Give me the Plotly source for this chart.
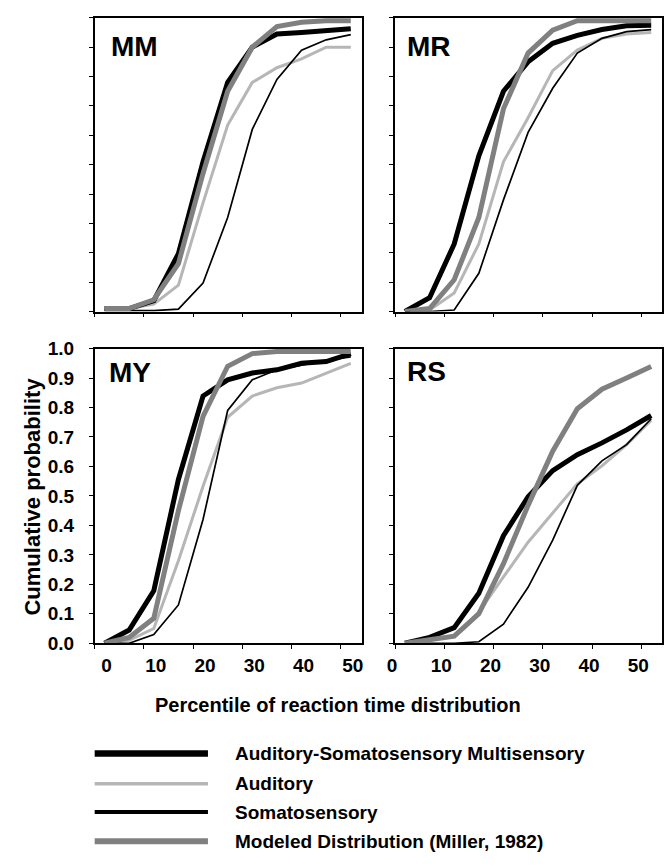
import plotly.graph_objects as go

# ---------------- data ----------------
percentile = [0, 5, 10, 15, 20, 25, 30, 35, 40, 45, 50]

panels = ["MM", "MR", "MY", "RS"]

mm_multisensory = [0.01, 0.01, 0.037, 0.197, 0.51, 0.78, 0.90, 0.945, 0.95, 0.958, 0.963]
mm_auditory     = [0.01, 0.01, 0.025, 0.09, 0.37, 0.635, 0.78, 0.83, 0.86, 0.90, 0.90]
mm_somato       = [0.003, 0.003, 0.003, 0.008, 0.097, 0.32, 0.62, 0.79, 0.89, 0.925, 0.943]
mm_model        = [0.01, 0.01, 0.04, 0.163, 0.47, 0.75, 0.90, 0.97, 0.985, 0.99, 0.99]

mr_multisensory = [0.0, 0.047, 0.23, 0.53, 0.75, 0.85, 0.913, 0.94, 0.96, 0.973, 0.975]
mr_auditory     = [0.0, 0.005, 0.063, 0.23, 0.51, 0.66, 0.82, 0.89, 0.93, 0.945, 0.95]
mr_somato       = [0.0, 0.0, 0.005, 0.13, 0.38, 0.61, 0.76, 0.88, 0.93, 0.953, 0.96]
mr_model        = [0.0, 0.01, 0.108, 0.32, 0.69, 0.88, 0.958, 0.99, 0.99, 0.99, 0.99]

my_multisensory = [0.0, 0.045, 0.178, 0.556, 0.839, 0.894, 0.917, 0.928, 0.95, 0.956, 0.983]
my_auditory     = [0.0, 0.01, 0.05, 0.28, 0.533, 0.767, 0.839, 0.867, 0.883, 0.917, 0.95]
my_somato       = [0.0, 0.0, 0.03, 0.13, 0.42, 0.79, 0.894, 0.928, 0.944, 0.96, 0.972]
my_model        = [0.0, 0.02, 0.085, 0.45, 0.77, 0.94, 0.983, 0.99, 0.99, 0.99, 0.99]

rs_multisensory = [0.0, 0.02, 0.053, 0.17, 0.365, 0.497, 0.586, 0.64, 0.68, 0.724, 0.773]
rs_auditory     = [0.0, 0.01, 0.025, 0.106, 0.225, 0.343, 0.442, 0.541, 0.602, 0.674, 0.757]
rs_somato       = [0.0, 0.0, 0.0, 0.005, 0.065, 0.19, 0.35, 0.536, 0.619, 0.674, 0.762]
rs_model        = [0.0, 0.01, 0.024, 0.10, 0.27, 0.468, 0.652, 0.796, 0.862, 0.90, 0.939]

x_tick_vals = [0, 10, 20, 30, 40, 50]
x_tick_text = ["0", "10", "20", "30", "40", "50"]

series_names = [
    "Auditory",
    "Somatosensory",
    "Auditory-Somatosensory Multisensory",
    "Modeled Distribution (Miller, 1982)",
]
legend_order = [
    "Auditory-Somatosensory Multisensory",
    "Auditory",
    "Somatosensory",
    "Modeled Distribution (Miller, 1982)",
]

panel_data = {
    "MM": [mm_auditory, mm_somato, mm_multisensory, mm_model],
    "MR": [mr_auditory, mr_somato, mr_multisensory, mr_model],
    "MY": [my_auditory, my_somato, my_multisensory, my_model],
    "RS": [rs_auditory, rs_somato, rs_multisensory, rs_model],
}

# ---------------- styles ----------------
W, H = 667, 866
FONT = "Liberation Sans"
styles = {
    "Auditory": dict(color="#b6b6b6", width=3),
    "Somatosensory": dict(color="#000000", width=1.7),
    "Auditory-Somatosensory Multisensory": dict(color="#000000", width=5),
    "Modeled Distribution (Miller, 1982)": dict(color="#808080", width=5),
}
legend_styles = {
    "Auditory-Somatosensory Multisensory": dict(color="#000000", width=6.5),
    "Auditory": dict(color="#b6b6b6", width=3.5),
    "Somatosensory": dict(color="#000000", width=4),
    "Modeled Distribution (Miller, 1982)": dict(color="#808080", width=6),
}

def px_x(p):
    return p / W

def px_y(p):
    return 1 - p / H

col_dom = [[px_x(88), px_x(359)], [px_x(393), px_x(664)]]
row_dom = [[px_y(309), px_y(8)], [px_y(649), px_y(347)]]

fig = go.Figure()

positions = {"MM": (0, 0), "MR": (1, 0), "MY": (0, 1), "RS": (1, 1)}
label_pos = {"MM": (103, 37), "MR": (403, 37), "MY": (100, 372), "RS": (403, 370)}

for i, name in enumerate(panels):
    ax = "" if i == 0 else str(i + 1)
    for sname, vals in zip(series_names, panel_data[name]):
        fig.add_trace(go.Scatter(
            x=percentile, y=vals, mode="lines", name=sname,
            line=dict(color=styles[sname]["color"], width=styles[sname]["width"]),
            xaxis="x" + ax, yaxis="y" + ax, showlegend=False,
        ))
    c, r = positions[name]
    bottom = r == 1
    show_y = (c == 0 and r == 1)
    fig.layout["xaxis" + ax] = dict(
        domain=col_dom[c], anchor="y" + ax, range=[-2, 52.2],
        tickmode="array", tickvals=x_tick_vals, ticktext=x_tick_text,
        ticks="outside", ticklen=4, tickcolor="rgba(0,0,0,0)",
        minor=dict(tickmode="linear", tick0=-2, dtick=10, ticks="outside",
                   ticklen=4, tickwidth=1, tickcolor="black", showgrid=False),
        showticklabels=bottom, ticklabelshift=(-13 if c == 1 else 2),
        ticklabelstandoff=0,
        tickfont=dict(family=FONT, size=19, color="black", weight="bold"),
        showline=True, linecolor="black", linewidth=1.5, mirror=True,
        showgrid=False, zeroline=False,
    )
    fig.layout["yaxis" + ax] = dict(
        domain=row_dom[r], anchor="x" + ax, range=[0, 1],
        tickmode="linear", tick0=0, dtick=0.1, tickformat=".1f",
        ticks="outside", ticklen=4, tickcolor="black", tickwidth=1,
        showticklabels=show_y, ticklabelstandoff=11,
        tickfont=dict(family=FONT, size=19, color="black", weight="bold"),
        showline=True, linecolor="black", linewidth=1.5, mirror=True,
        showgrid=False, zeroline=False,
    )
    lx, ly = label_pos[name]
    fig.add_annotation(
        text="<b>%s</b>" % name, xref="paper", yref="paper",
        x=px_x(lx), y=px_y(ly), xanchor="left", yanchor="middle",
        showarrow=False, font=dict(family=FONT, size=28, color="black"),
    )

# axis titles
fig.add_annotation(
    text="<b>Percentile of reaction time distribution</b>", xref="paper", yref="paper",
    x=px_x(335), y=px_y(712), xanchor="center", yanchor="middle", showarrow=False,
    font=dict(family=FONT, size=20, color="black"),
)
fig.add_annotation(
    text="<b>Cumulative probability</b>", xref="paper", yref="paper", textangle=-90,
    x=px_x(25), y=px_y(499), xanchor="center", yanchor="middle", showarrow=False,
    font=dict(family=FONT, size=22, color="black"),
)

# legend (drawn manually with long line samples)
legend_rows = [762, 793, 822, 852]
for sname, ry in zip(legend_order, legend_rows):
    st = legend_styles[sname]
    fig.add_shape(type="line", xref="paper", yref="paper",
                  x0=px_x(88), x1=px_x(203), y0=px_y(ry), y1=px_y(ry),
                  line=dict(color=st["color"], width=st["width"]))
    fig.add_annotation(
        text="<b>%s</b>" % sname, xref="paper", yref="paper",
        x=px_x(228), y=px_y(ry), xanchor="left", yanchor="middle", showarrow=False,
        font=dict(family=FONT, size=19, color="black"),
    )

fig.update_layout(
    width=W, height=H, margin=dict(l=0, r=0, t=0, b=0),
    paper_bgcolor="white", plot_bgcolor="white", showlegend=False,
)

fig.write_html(
    "out.html",
    config={"displayModeBar": False},
    post_script="document.body.style.margin='0';document.body.style.overflow='hidden';",
)
